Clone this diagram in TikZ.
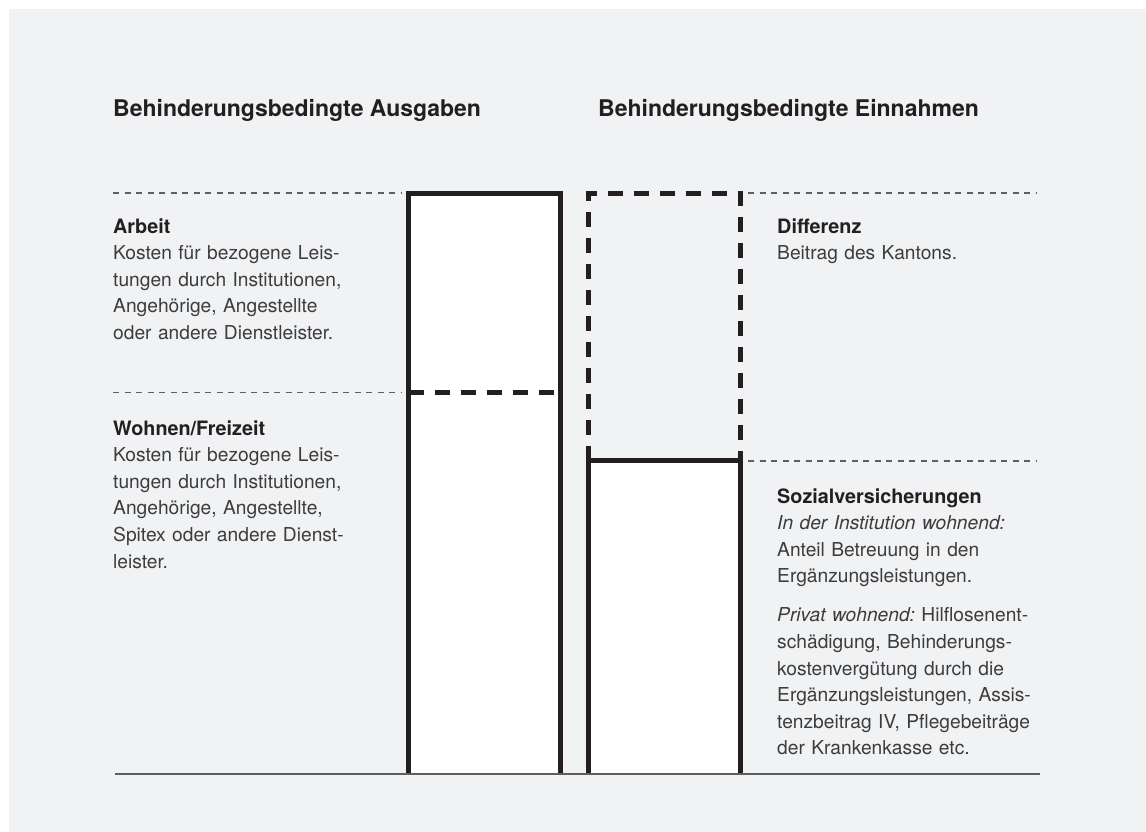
\documentclass[tikz,border=0pt]{standalone}
\usepackage{fontspec}
\setmainfont{TeX Gyre Heros}
\frenchspacing
\usetikzlibrary{positioning}
\definecolor{Paper}{HTML}{F1F2F4}
\definecolor{Ink}{HTML}{231F20}
\definecolor{Body}{HTML}{3C3C3C}
\definecolor{Rule}{HTML}{5E5E5E}
\tikzset{
  title/.style={anchor=base west,inner sep=0pt,font=\fontsize{23}{27}\selectfont\bfseries,text=Ink},
  note/.style={anchor=base west,inner sep=0pt,text width=300pt,align=left,font=\fontsize{19.2}{26.6}\selectfont,text=Body},
  guide/.style={draw=Rule,line width=1.1pt,dash pattern=on 6pt off 5.5pt},
  bar/.style={draw=Ink,line width=5pt},
  barcut/.style={bar,dash pattern=on 15pt off 11pt},
  floor/.style={draw=Rule,line width=2pt}
}
\newcommand{\head}[1]{{\fontsize{19.8}{26.6}\selectfont\bfseries\color{Ink}#1}}

\begin{document}
\begin{tikzpicture}[x=1pt,y=-1pt]
  \useasboundingbox (0,0) rectangle (1146,832);
  \fill[Paper] (9,9) rectangle (1146,832);
  % titles
  \node[title] (ausgaben) at (113,117) {Behinderungsbedingte Ausgaben};
  \node[title] (einnahmen) at (598,117) {Behinderungsbedingte Einnahmen};
  % bars
  \fill[white] (408.5,193.5) rectangle (560.5,774);
  \fill[white] (588.5,460.5) rectangle (740.5,774);
  \draw[bar] (408.5,774) -- (408.5,193.5) -- (560.5,193.5) -- (560.5,774);
  \draw[barcut] (408.5,392) -- (560.5,392);
  \draw[barcut] (588.5,460.5) -- (588.5,193.5) -- (740.5,193.5) -- (740.5,460.5);
  \draw[bar] (588.5,774) -- (588.5,460.5) -- (740.5,460.5) -- (740.5,774);
  % guides
  \draw[guide] (113,193) -- (401,193);
  \draw[guide] (113,392.5) -- (401,392.5);
  \draw[guide] (748,193) -- (1037,193);
  \draw[guide] (748,461) -- (1037,461);
  \draw[floor] (115,774) -- (1040,774);
  % texts
  \node[note] (arbeit) at (113,233) {\head{Arbeit}\\
    Kosten für bezogene Leis-\\
    tungen durch Institutionen,\\
    Angehörige, Angestellte\\
    oder andere Dienstleister.};
  \node[note] (wohnen) at (113,435) {\head{Wohnen/Freizeit}\\
    Kosten für bezogene Leis-\\
    tungen durch Institutionen,\\
    Angehörige, Angestellte,\\
    Spitex oder andere Dienst-\\
    leister.};
  \node[note] (differenz) at (777,233) {\head{Differenz}\\
    Beitrag des Kantons.};
  \node[note] (sozial) at (777,503) {\head{Sozialversicherungen}\\
    {\itshape In der Institution wohnend:}\\
    Anteil Betreuung in den\\
    Ergänzungsleistungen.\\[12.4pt]
    {\itshape Privat wohnend:} Hilflosenent-\\
    schädigung, Behinderungs-\\
    kostenvergütung durch die\\
    Ergänzungsleistungen, Assis-\\
    tenzbeitrag IV, Pflegebeiträge\\
    der Krankenkasse etc.};
\end{tikzpicture}
\end{document}
